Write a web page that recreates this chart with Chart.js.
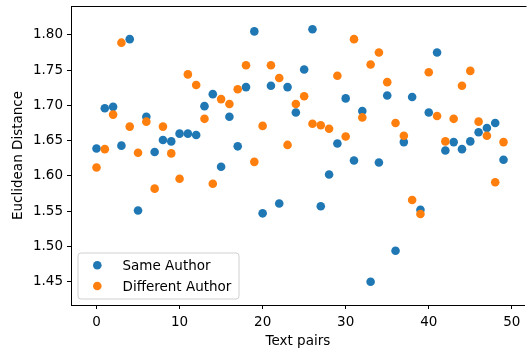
<!DOCTYPE html>
<html>
<head>
<meta charset="utf-8">
<script src="https://cdn.jsdelivr.net/npm/chart.js@4.4.1/dist/chart.umd.min.js"></script>
<style>
  html, body { margin: 0; padding: 0; background: #fff; }
  #wrap { width: 529px; height: 354px; }
</style>
</head>
<body>
<div id="wrap"><canvas id="chart" width="529" height="354"></canvas></div>
<script>
const pairs = Array.from({ length: 50 }, (_, i) => i);

const sameAuthor = [
    1.639, 1.696, 1.698, 1.643, 1.794, 1.551, 1.684, 1.634, 1.651, 1.649,
    1.660, 1.660, 1.658, 1.699, 1.716, 1.613, 1.684, 1.642, 1.726, 1.805,
    1.547, 1.728, 1.561, 1.726, 1.690, 1.751, 1.808, 1.557, 1.602, 1.646,
    1.710, 1.622, 1.692, 1.450, 1.619, 1.714, 1.494, 1.648, 1.712, 1.552,
    1.690, 1.775, 1.636, 1.648, 1.638, 1.649, 1.662, 1.668, 1.675, 1.623
];

const differentAuthor = [
    1.612, 1.638, 1.687, 1.789, 1.670, 1.633, 1.677, 1.582, 1.670, 1.632,
    1.596, 1.744, 1.729, 1.681, 1.589, 1.709, 1.702, 1.723, 1.757, 1.620,
    1.671, 1.757, 1.739, 1.644, 1.702, 1.713, 1.674, 1.672, 1.667, 1.742,
    1.656, 1.794, 1.683, 1.758, 1.775, 1.733, 1.675, 1.657, 1.566, 1.546,
    1.747, 1.685, 1.649, 1.681, 1.728, 1.749, 1.677, 1.657, 1.591, 1.648
];

const yTicks = [1.45, 1.50, 1.55, 1.60, 1.65, 1.70, 1.75, 1.80];
const xTicks = [0, 10, 20, 30, 40, 50];

const seriesNames = ["Same Author", "Different Author"];
const seriesColors = ["#1f77b4", "#ff7f0e"];

const FONT = "'DejaVu Sans', sans-serif";
const FSIZE = 13.5;

function toPoints(values) {
    return values.map((v, i) => ({ x: pairs[i], y: v }));
}

// frame around the plot + legend in the lower left corner
const framePlugin = {
    id: 'frame',
    afterDraw(chart) {
        const { ctx, chartArea } = chart;
        const l = Math.round(chartArea.left) + 0.5, t = Math.round(chartArea.top) + 0.5;
        const r2 = Math.round(chartArea.right) - 0.5, b = Math.round(chartArea.bottom) - 0.5;
        ctx.save();
        ctx.strokeStyle = '#000';
        ctx.lineWidth = 1;
        ctx.beginPath();
        ctx.moveTo(l, b); ctx.lineTo(l, t); ctx.lineTo(r2 + 2, t);
        ctx.stroke();

        // legend box
        const bx = 78, by = 253, bw = 161, bh = 46, r = 3;
        ctx.beginPath();
        ctx.moveTo(bx + r, by);
        ctx.arcTo(bx + bw, by, bx + bw, by + bh, r);
        ctx.arcTo(bx + bw, by + bh, bx, by + bh, r);
        ctx.arcTo(bx, by + bh, bx, by, r);
        ctx.arcTo(bx, by, bx + bw, by, r);
        ctx.closePath();
        ctx.fillStyle = 'rgba(255,255,255,0.8)';
        ctx.fill();
        ctx.strokeStyle = '#d0d0d0';
        ctx.stroke();

        ctx.font = FSIZE + 'px ' + FONT;
        ctx.textBaseline = 'middle';
        seriesNames.forEach((name, i) => {
            const cy = 265.3 + i * 20.7;
            ctx.beginPath();
            ctx.arc(97.3, cy, 4.3, 0, Math.PI * 2);
            ctx.fillStyle = seriesColors[i];
            ctx.fill();
            ctx.fillStyle = '#000';
            ctx.fillText(name, 122.5, cy + 1);
        });
        ctx.restore();
    }
};

const ctx = document.getElementById('chart').getContext('2d');
new Chart(ctx, {
    type: 'scatter',
    data: {
        datasets: [{
            label: seriesNames[0],
            data: toPoints(sameAuthor),
            backgroundColor: seriesColors[0],
            borderWidth: 0,
            pointRadius: 4.3,
            order: 1
        }, {
            label: seriesNames[1],
            data: toPoints(differentAuthor),
            backgroundColor: seriesColors[1],
            borderWidth: 0,
            pointRadius: 4.3,
            order: 0
        }]
    },
    options: {
        responsive: false,
        animation: false,
        layout: { padding: { top: 0, right: 1, left: 0, bottom: 0 } },
        plugins: {
            legend: { display: false },
            tooltip: { enabled: false }
        },
        scales: {
            x: {
                type: 'linear',
                min: -3.07,
                max: 51.55,
                afterBuildTicks: (s) => { s.ticks = xTicks.map(v => ({ value: v })); },
                afterFit: (s) => { s.height = 49; },
                grid: { display: true, drawOnChartArea: false, drawTicks: true, tickLength: 4, color: '#000' },
                border: { display: true, color: '#000' },
                ticks: { color: '#000', font: { family: FONT, size: FSIZE }, padding: 5, maxRotation: 0 },
                title: { display: true, text: 'Text pairs', color: '#000', font: { family: FONT, size: FSIZE }, padding: { top: 0, bottom: 4 } }
            },
            y: {
                min: 1.417,
                max: 1.841,
                afterBuildTicks: (s) => { s.ticks = yTicks.map(v => ({ value: v })); },
                afterFit: (s) => { s.width = 71; s.paddingTop = 6; },
                grid: { display: true, drawOnChartArea: false, drawTicks: true, tickLength: 4, color: '#000' },
                border: { display: true, color: '#000' },
                ticks: { color: '#000', font: { family: FONT, size: FSIZE }, padding: 4, callback: (v) => v.toFixed(2) },
                title: { display: true, text: 'Euclidean Distance', color: '#000', font: { family: FONT, size: FSIZE }, padding: { top: 10, bottom: 0 } }
            }
        }
    },
    plugins: [framePlugin]
});
</script>
</body>
</html>
